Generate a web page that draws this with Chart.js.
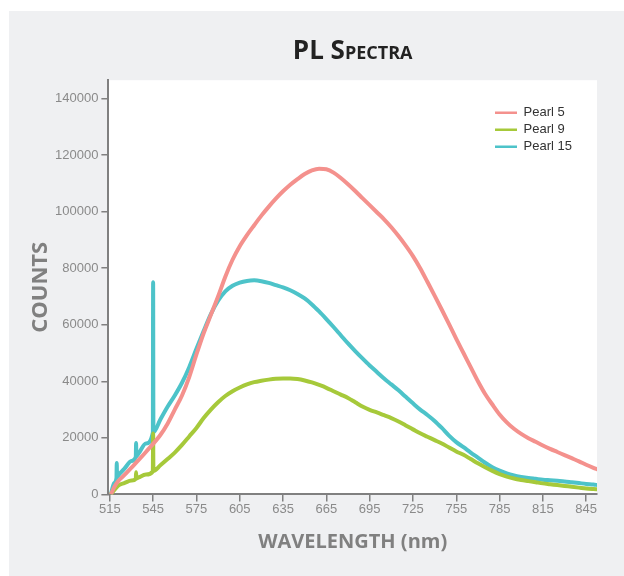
<!DOCTYPE html>
<html>
<head>
<meta charset="utf-8">
<script src="https://cdn.jsdelivr.net/npm/chart.js@4.4.1/dist/chart.umd.min.js"></script>
<style>
  html, body { margin: 0; padding: 0; background: #fff; }
  #panel { position: absolute; left: 9px; top: 11px; width: 615px; height: 565px; background: #eff0f2; }
</style>
</head>
<body>
<div id="panel"><canvas id="pl-chart"></canvas></div>
<script>
// Wavelength grid (nm) shared by the three spectra
const wavelengths = [
  515.7, 518, 521, 525, 530, 535, 540, 550, 555, 560,
  565, 570, 575, 580, 585, 590, 595, 600, 605, 610,
  615, 620, 625, 630, 635, 640, 645, 650, 655, 660,
  665, 670, 675, 680, 685, 690, 695, 700, 705, 710,
  715, 720, 725, 730, 735, 740, 745, 750, 755, 760,
  765, 770, 775, 780, 785, 790, 795, 800, 805, 810,
  815, 820, 825, 830, 835, 840, 845, 850, 853
];

const pearl5 = [
  0, 2500, 4800, 6800, 9500, 12200, 15000, 21000, 25000, 30000,
  35000, 41500, 49500, 57000, 63500, 70000, 77000, 83000, 87800, 91700,
  95200, 98600, 101700, 104600, 107200, 109500, 111500, 113300, 114600, 115200,
  115000, 113800, 111900, 109700, 107300, 104800, 102300, 99800, 97300, 94500,
  91400, 88000, 84300, 80000, 75200, 70300, 65300, 60200, 55000, 50000,
  45000, 40000, 35500, 31800, 28300, 25500, 23200, 21400, 19900, 18600,
  17300, 16100, 15000, 13900, 12800, 11700, 10500, 9400, 8800
];

const pearl9 = [
  0, 1500, 3200, 4000, 4900, 6000, 7000, 10300, 12500, 14800,
  17500, 20500, 23500, 27000, 30000, 32600, 34800, 36500, 37800, 38900,
  39700, 40200, 40600, 40900, 41000, 41000, 40800, 40300, 39600, 38700,
  37700, 36500, 35300, 34100, 32600, 31100, 29900, 29000, 28000, 27000,
  25800, 24400, 23000, 21600, 20400, 19200, 18000, 16600, 15200, 14000,
  12500, 11000, 9600, 8300, 7200, 6300, 5600, 5100, 4700, 4300,
  3900, 3600, 3300, 3000, 2700, 2400, 2100, 1900, 1800
];

const pearl15 = [
  0, 4000, 6800, 9000, 11800, 14500, 18000, 26500, 31000, 35000,
  39500, 45000, 51500, 57800, 63800, 68500, 71800, 73800, 74900, 75500,
  75700, 75400, 74800, 74000, 73200, 72200, 70900, 69300, 67200, 64700,
  62000, 59200, 56300, 53400, 50700, 48100, 45600, 43300, 41000, 38900,
  36800, 34500, 32200, 30000, 28100, 26000, 23500, 20800, 18500, 16700,
  14800, 13000, 11200, 9600, 8400, 7400, 6700, 6200, 5800, 5500,
  5200, 5000, 4800, 4600, 4300, 4000, 3700, 3500, 3300
];

// Narrow emission spikes
const pearl9SpikeNm = [533, 533.2, 533.4, 544.8, 545, 545.2];
const pearl9SpikeCounts = [5500, 7800, 5600, 8100, 21500, 8300];
const pearl15SpikeNm = [519.6, 519.8, 520, 533, 533.2, 533.4, 544.8, 545, 545.2];
const pearl15SpikeCounts = [5800, 11100, 6000, 13300, 18200, 13500, 21800, 75000, 22000];

const seriesLabels = ['Pearl 5', 'Pearl 9', 'Pearl 15'];
const seriesColors = ['#f4918d', '#a6c93a', '#4dc3c9'];
const xTicks = [515, 545, 575, 605, 635, 665, 695, 725, 755, 785, 815, 845];
const yTicks = [0, 20000, 40000, 60000, 80000, 100000, 120000, 140000];

function toPoints(values, spikeNm = [], spikeCounts = []) {
  const pts = wavelengths.map((x, i) => ({ x: x, y: values[i] }));
  spikeNm.forEach((x, i) => pts.push({ x: x, y: spikeCounts[i] }));
  return pts.sort((a, b) => a.x - b.x);
}

// White plot area on the grey panel
const plotBackground = {
  id: 'plotBackground',
  beforeDraw(chart) {
    const { ctx, chartArea: a } = chart;
    ctx.save();
    ctx.fillStyle = '#ffffff';
    ctx.fillRect(a.left, a.top, a.right - a.left, a.bottom - a.top);
    ctx.restore();
  }
};

// Put the legend in the top right corner of the plot
const legendInside = {
  id: 'legendInside',
  afterLayout(chart) {
    const lg = chart.legend;
    const a = chart.chartArea;
    lg.left = a.right - 106;
    lg.top = a.top + 22;
  }
};

const axisGrey = '#808080';
const tickFont = { family: '"Liberation Sans", Arial, sans-serif', size: 13 };

new Chart(document.getElementById('pl-chart'), {
  type: 'line',
  data: {
    datasets: [
      { label: seriesLabels[0], data: toPoints(pearl5), borderColor: seriesColors[0], backgroundColor: seriesColors[0] },
      { label: seriesLabels[1], data: toPoints(pearl9, pearl9SpikeNm, pearl9SpikeCounts), borderColor: seriesColors[1], backgroundColor: seriesColors[1] },
      { label: seriesLabels[2], data: toPoints(pearl15, pearl15SpikeNm, pearl15SpikeCounts), borderColor: seriesColors[2], backgroundColor: seriesColors[2] }
    ]
  },
  options: {
    responsive: true,
    maintainAspectRatio: false,
    animation: false,
    layout: { padding: { left: 9, right: 27, top: 0, bottom: 18 } },
    elements: {
      point: { radius: 0 },
      line: { borderWidth: 4, cubicInterpolationMode: 'monotone' }
    },
    plugins: {
      title: {
        display: true,
        fullSize: false,
        text: 'PL Spectra',
        color: '#222222',
        font: { family: '"Open Sans", sans-serif', size: 26, weight: 'small-caps bold', lineHeight: 1.2 },
        padding: { top: 25, bottom: 13 }
      },
      legend: {
        position: 'chartArea',
        align: 'start',
        labels: {
          usePointStyle: true,
          pointStyle: 'line',
          pointStyleWidth: 22,
          padding: 4,
          color: '#333333',
          font: { family: '"Liberation Sans", Arial, sans-serif', size: 13 },
          generateLabels: chart => Chart.defaults.plugins.legend.labels.generateLabels(chart)
            .map(item => Object.assign(item, { lineWidth: 2.5 }))
        }
      },
      tooltip: { enabled: false }
    },
    scales: {
      x: {
        type: 'linear',
        min: 514,
        max: 852.5,
        afterBuildTicks: scale => { scale.ticks = xTicks.map(v => ({ value: v })); },
        ticks: { color: '#8a8a8a', font: tickFont, padding: 0, maxRotation: 0, callback: v => String(v) },
        grid: { drawOnChartArea: false, drawTicks: true, tickLength: 7, color: axisGrey, lineWidth: 1.5 },
        border: { display: true, color: axisGrey, width: 2 },
        title: {
          display: true,
          text: 'WAVELENGTH (nm)',
          color: axisGrey,
          font: { family: '"Open Sans", sans-serif', size: 20, weight: 'bold', lineHeight: 1.2 },
          padding: { top: 13, bottom: 4 }
        }
      },
      y: {
        min: 0,
        max: 146500,
        afterBuildTicks: scale => { scale.ticks = yTicks.map(v => ({ value: v })); },
        ticks: { color: '#8a8a8a', font: tickFont, padding: 3, callback: v => String(v) },
        grid: { drawOnChartArea: false, drawTicks: true, tickLength: 7, color: axisGrey, lineWidth: 1.5 },
        border: { display: true, color: axisGrey, width: 2 },
        title: {
          display: true,
          text: 'COUNTS',
          color: axisGrey,
          font: { family: '"Open Sans", sans-serif', size: 22, weight: 'bold', lineHeight: 1 },
          padding: { top: 12, bottom: 0 }
        }
      }
    }
  },
  plugins: [plotBackground, legendInside]
});
</script>
</body>
</html>
